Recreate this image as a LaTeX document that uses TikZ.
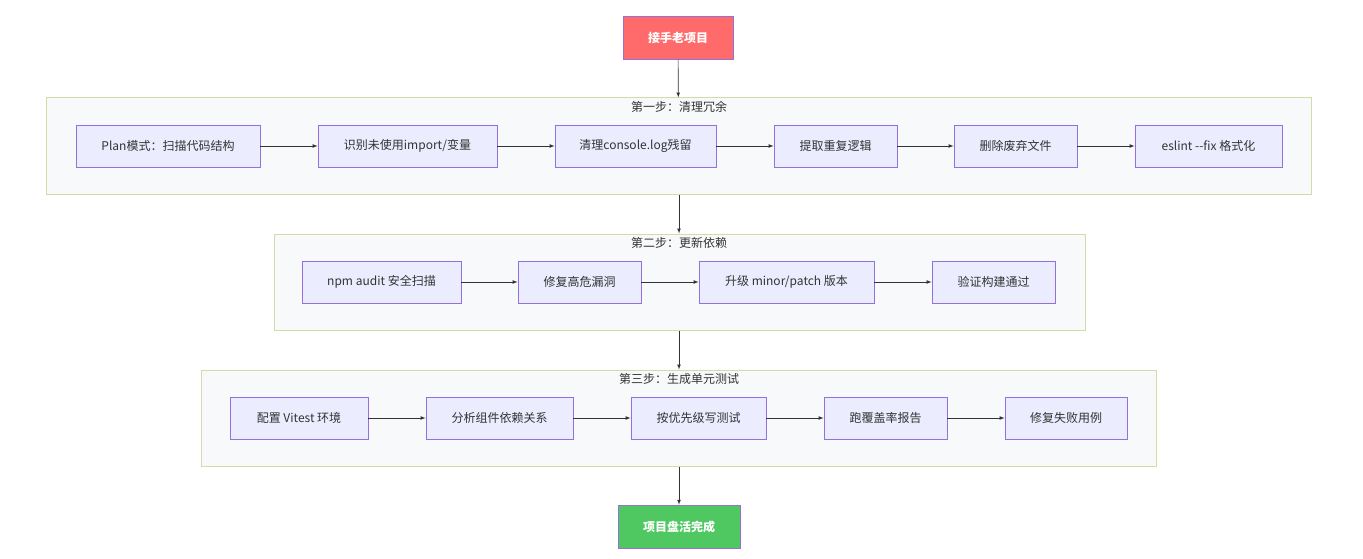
\documentclass[tikz,border=0pt]{standalone}
\usepackage{fontspec}
\setmainfont{Noto Sans CJK SC}
\usetikzlibrary{positioning}

\definecolor{nodefill}{HTML}{ECECFF}
\definecolor{nodeline}{HTML}{9370DB}
\definecolor{groupfill}{HTML}{F8F9FB}
\definecolor{groupline}{HTML}{D3DCA6}
\definecolor{startfill}{HTML}{FF6B6B}
\definecolor{endfill}{HTML}{4FC862}
\definecolor{textgray}{HTML}{333333}

\begin{document}
\begin{tikzpicture}[x=1pt,y=-1pt,
    every node/.style={font=\fontsize{12}{14}\selectfont, text=textgray},
    stepbox/.style={draw=nodeline, fill=nodefill, line width=0.8pt, minimum height=42pt, inner sep=0pt},
    groupbox/.style={draw=groupline, fill=groupfill, line width=1pt, inner sep=0pt},
    grouptitle/.style={anchor=north, inner sep=1pt},
    endbox/.style={draw=nodeline, line width=0.6pt, minimum width=110pt, minimum height=43pt, inner sep=0pt},
    arr/.style={draw=textgray, line width=0.7pt, -latex}]

            \useasboundingbox (0,0) rectangle (1363,559);

            % start and end
            \node [endbox, fill=startfill, text=white] (start) at (678,37.5) {\textbf{接手老项目}};
            \node [endbox, fill=endfill, minimum width=122pt, text=white] (done) at (679,526.5) {\textbf{项目盘活完成}};

            % the three groups
            \node [groupbox, minimum width=1265pt, minimum height=96pt] (g1) at (678.5,146) {};
            \node [grouptitle] (g1title) at (679,100) {第一步：清理冗余};
            \node [groupbox, minimum width=811pt, minimum height=96pt] (g2) at (679.5,282) {};
            \node [grouptitle] (g2title) at (679,236) {第二步：更新依赖};
            \node [groupbox, minimum width=955pt, minimum height=96pt] (g3) at (678.5,418) {};
            \node [grouptitle] (g3title) at (679,372) {第三步：生成单元测试};

            % first row
            \foreach \i/\x/\w/\lab in {
            1/168/184/{Plan模式：扫描代码结构},
            2/407.5/179/{识别未使用import/变量},
            3/635.5/161/{清理console.log残留},
            4/835.5/123/{提取重复逻辑},
            5/1015.5/123/{删除废弃文件},
            6/1208.5/147/{eslint -{}-fix 格式化}} {
            \node [stepbox, minimum width=\w pt] (a\i) at (\x,146) {\lab};
            }

            % second row
            \foreach \i/\x/\w/\lab in {
            1/381.5/159/{npm audit 安全扫描},
            2/579.5/123/{修复高危漏洞},
            3/786.5/175/{升级 minor/patch 版本},
            4/993.5/123/{验证构建通过}} {
            \node [stepbox, minimum width=\w pt] (b\i) at (\x,282) {\lab};
            }

            % third row
            \foreach \i/\x/\w/\lab in {
            1/299/138/{配置 Vitest 环境},
            2/499.5/147/{分析组件依赖关系},
            3/698.5/135/{按优先级写测试},
            4/885.5/123/{跑覆盖率报告},
            5/1066/122/{修复失败用例}} {
            \node [stepbox, minimum width=\w pt] (c\i) at (\x,418) {\lab};
            }

            % arrows
            \foreach \i/\j in {1/2,2/3,3/4,4/5,5/6} {
            \draw [arr] (a\i) -- (a\j);
            }
            \foreach \i/\j in {1/2,2/3,3/4} {
            \draw [arr] (b\i) -- (b\j);
            }
            \foreach \i/\j in {1/2,2/3,3/4,4/5} {
            \draw [arr] (c\i) -- (c\j);
            }

            \draw [arr] (start) -- (g1);
            \draw [arr] (g1.south -| g2title) -- (g2.north -| g2title);
            \draw [arr] (g2.south -| g3title) -- (g3.north -| g3title);
            \draw [arr] (g3.south -| done) -- (done);

\end{tikzpicture}
\end{document}
